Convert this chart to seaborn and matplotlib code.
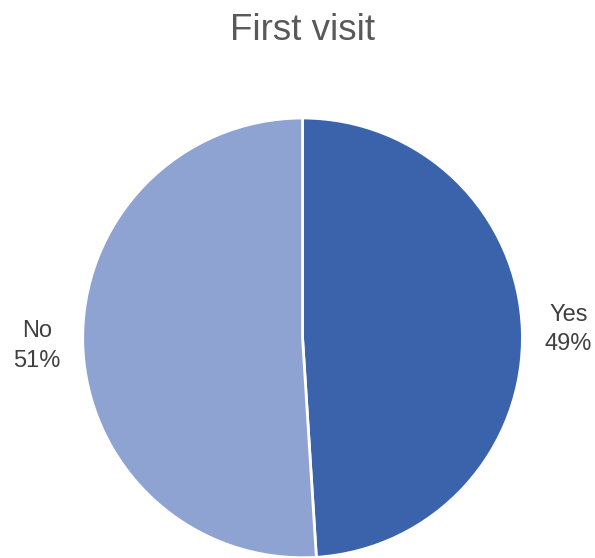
import matplotlib
matplotlib.use("Agg")
import matplotlib.pyplot as plt
import seaborn as sns

# data
categories = ["Yes", "No"]
shares = [49, 51]
slice_colors = ["#3A63AC", "#8FA3D3"]

sns.set_theme(style="white")
plt.rcParams['font.family'] = ['Liberation Sans', 'DejaVu Sans']

fig = plt.figure(figsize=(5.95, 5.58), dpi=100)
ax = fig.add_axes([0.139, 0.0, 0.739, 0.789])

labels = [f"{c}\n{v}%" for c, v in zip(categories, shares)]
wedges, texts = ax.pie(shares, labels=labels, colors=slice_colors,
                       startangle=90, counterclock=False,
                       labeldistance=1.21,
                       wedgeprops=dict(edgecolor="white", linewidth=2),
                       textprops=dict(fontsize=17, color="#404040"))
for t in texts:
    t.set_horizontalalignment("center")
    t.set_verticalalignment("center")
    t.set_linespacing(1.45)
ax.set_xlim(-1, 1)
ax.set_ylim(-1, 1)
ax.set_aspect("equal")

fig.text(0.509, 0.928, "First visit", ha="center", va="baseline",
         fontsize=26.5, color="#595959")

fig.savefig("out.png", dpi=100)
